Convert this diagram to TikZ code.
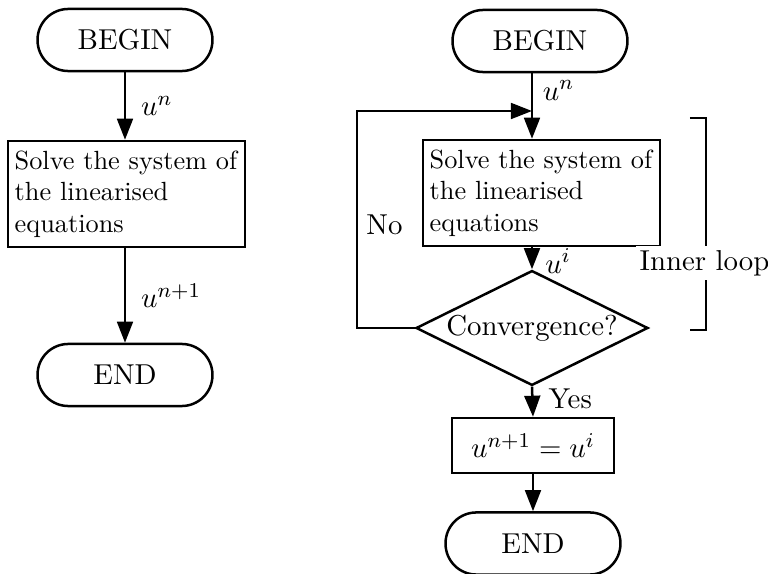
\documentclass[11pt,tikz,border=0pt]{standalone}
\usepackage{amsmath}
\usetikzlibrary{shapes.geometric, arrows.meta, positioning, calc}
\tikzset{
  terminal/.style={rectangle, draw, minimum width=66.5pt, minimum height=23.6pt,
    rounded corners=11.7pt, line width=0.95pt},
  process/.style={rectangle, draw, text width=85pt, align=left, inner xsep=2.5pt,
    minimum height=37.3pt, font=\small, line width=0.95pt},
  decision/.style={diamond, draw, aspect=2, minimum width=88.2pt,
    minimum height=43.7pt, inner sep=0pt, line width=0.95pt},
  assign/.style={rectangle, draw, minimum width=61.6pt, minimum height=20.9pt,
    line width=0.95pt},
  arrow/.style={-{Triangle[length=8pt,width=6pt]}, line width=0.95pt},
  line/.style={line width=0.95pt}
}

\begin{document}
\begin{tikzpicture}[x=0.3802pt, y=-0.3802pt]
  \useasboundingbox (0,0) rectangle (768,574);

  % Left flowchart: one solve step
  \node[terminal] (begin1) at (125,40) {BEGIN};
  \node[process] (solve1) at (126.5,194) {Solve the system of\\the linearised\\equations};
  \node[terminal] (end1) at (125,375) {END};

  \draw[arrow] (begin1.south -| end1.north) -- (solve1.north -| end1.north)
    node[midway, right=2pt] {$u^n$};
  \draw[arrow] (solve1.south -| end1.north) -- (end1.north)
    node[midway, right=2pt] {$u^{n+1}$};

  % Right flowchart: with inner loop
  \node[terminal] (begin2) at (540,41) {BEGIN};
  \node[process] (solve2) at (541.5,193) {Solve the system of\\the linearised\\equations};
  \node[decision] (conv) at (532,328) {Convergence?};
  \node[assign] (update) at (533,445.5) {$u^{n+1}=u^i$};
  \node[terminal] (end2) at (533,543.5) {END};
  \coordinate (join) at (conv.north |- 0,111);
  \coordinate (back) at (357,0);

  \draw[line] (begin2.south -| conv.north) -- (join)
    node[pos=0.45, right=0pt] {$u^n$};
  \draw[arrow] (join) -- (solve2.north -| conv.north);
  \draw[arrow] (solve2.south -| conv.north) -- (conv.north)
    node[midway, right=1pt, yshift=-1pt] {$u^i$};
  \draw[arrow] (conv.south) -- (update.north)
    node[pos=0.4, right=2pt] {Yes};
  \draw[arrow] (update.south) -- (end2.north);

  % No branch back to the top
  \draw[arrow] (conv.west) -- (conv.west -| back) -- (join -| back) -- (join);
  \node at (384.5,225) {No};

  % Inner loop bracket
  \draw[line] (690,118) -- (706,118) -- (706,330) -- (690,330);
  \node[fill=white, inner sep=1.5pt] at (704.5,263) {Inner loop};
\end{tikzpicture}
\end{document}
